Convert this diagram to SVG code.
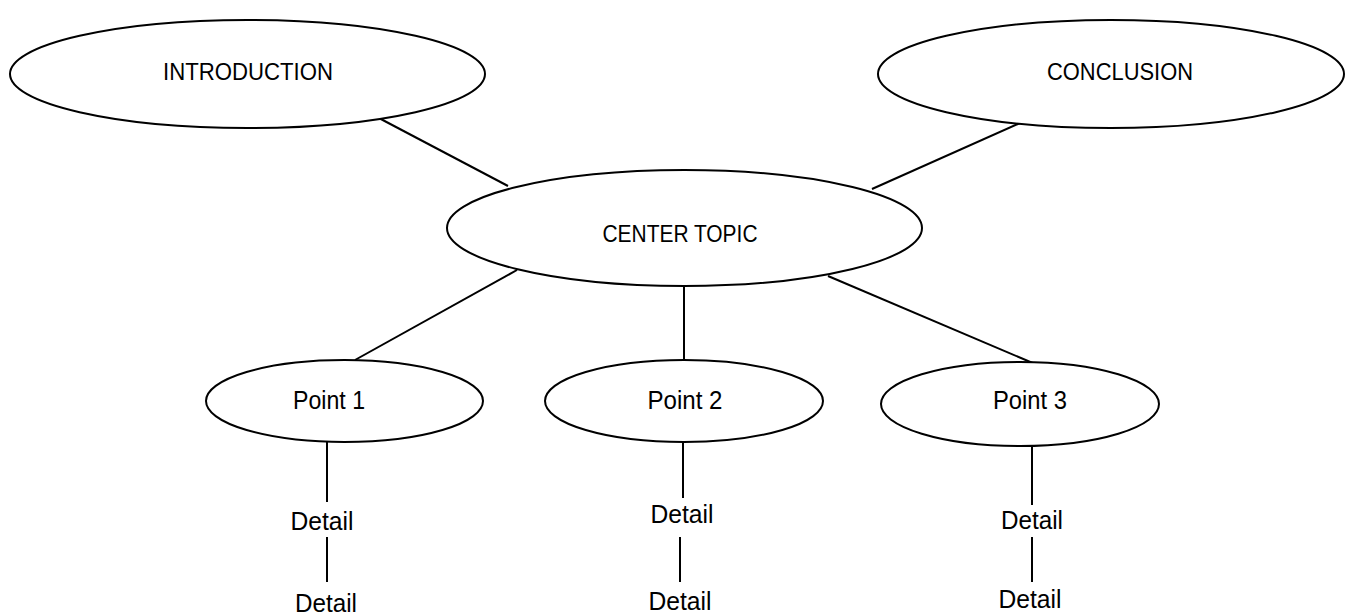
<svg xmlns="http://www.w3.org/2000/svg" width="1346" height="615" viewBox="0 0 1346 615">
<style>
.n{fill:#fff;stroke:#000;stroke-width:2}
.c line{stroke:#000;stroke-width:2}
.big{font-family:"Liberation Sans",Arial,sans-serif;font-size:24px;fill:#000;text-anchor:middle}
.pt{font-family:"Liberation Sans",Arial,sans-serif;font-size:25px;fill:#000;text-anchor:middle}
</style>
<rect width="1346" height="615" fill="#fff"/>
<g class="c" id="connectors">
<line x1="377" y1="117" x2="508" y2="186"/>
<line x1="1020" y1="123" x2="872" y2="189"/>
<line x1="517" y1="270" x2="355" y2="360"/>
<line x1="684" y1="286" x2="684" y2="360"/>
<line x1="828" y1="276" x2="1035" y2="364"/>
<line x1="327" y1="442" x2="327" y2="502"/>
<line x1="327" y1="537" x2="327" y2="582"/>
<line x1="683" y1="442" x2="683" y2="498"/>
<line x1="680" y1="537" x2="680" y2="582"/>
<line x1="1032" y1="446" x2="1032" y2="505"/>
<line x1="1032" y1="537" x2="1032" y2="582"/>
</g>
<g id="introduction">
<ellipse class="n" cx="247.5" cy="74" rx="237.5" ry="54"/>
<text class="big" x="248" y="80" textLength="170" lengthAdjust="spacingAndGlyphs">INTRODUCTION</text>
</g>
<g id="conclusion">
<ellipse class="n" cx="1111" cy="74" rx="233" ry="54"/>
<text class="big" x="1120" y="80" textLength="146" lengthAdjust="spacingAndGlyphs">CONCLUSION</text>
</g>
<g id="center">
<ellipse class="n" cx="684.5" cy="228" rx="237.5" ry="58"/>
<text class="big" x="680" y="242" textLength="155" lengthAdjust="spacingAndGlyphs">CENTER TOPIC</text>
</g>
<g id="point1">
<ellipse class="n" cx="344.5" cy="401" rx="138.5" ry="41"/>
<text class="pt" x="329" y="409" textLength="72" lengthAdjust="spacingAndGlyphs">Point 1</text>
</g>
<g id="point2">
<ellipse class="n" cx="684" cy="401" rx="139" ry="41"/>
<text class="pt" x="685" y="409" textLength="75" lengthAdjust="spacingAndGlyphs">Point 2</text>
</g>
<g id="point3">
<ellipse class="n" cx="1020" cy="404" rx="139" ry="42"/>
<text class="pt" x="1030" y="409" textLength="74" lengthAdjust="spacingAndGlyphs">Point 3</text>
</g>
<g id="detail1a"><text class="pt" x="322" y="530" textLength="63" lengthAdjust="spacingAndGlyphs">Detail</text></g>
<g id="detail1b"><text class="pt" x="326" y="612" textLength="62" lengthAdjust="spacingAndGlyphs">Detail</text></g>
<g id="detail2a"><text class="pt" x="682" y="523" textLength="63" lengthAdjust="spacingAndGlyphs">Detail</text></g>
<g id="detail2b"><text class="pt" x="680" y="610" textLength="63" lengthAdjust="spacingAndGlyphs">Detail</text></g>
<g id="detail3a"><text class="pt" x="1032" y="529" textLength="62" lengthAdjust="spacingAndGlyphs">Detail</text></g>
<g id="detail3b"><text class="pt" x="1030" y="608" textLength="63" lengthAdjust="spacingAndGlyphs">Detail</text></g>
</svg>
